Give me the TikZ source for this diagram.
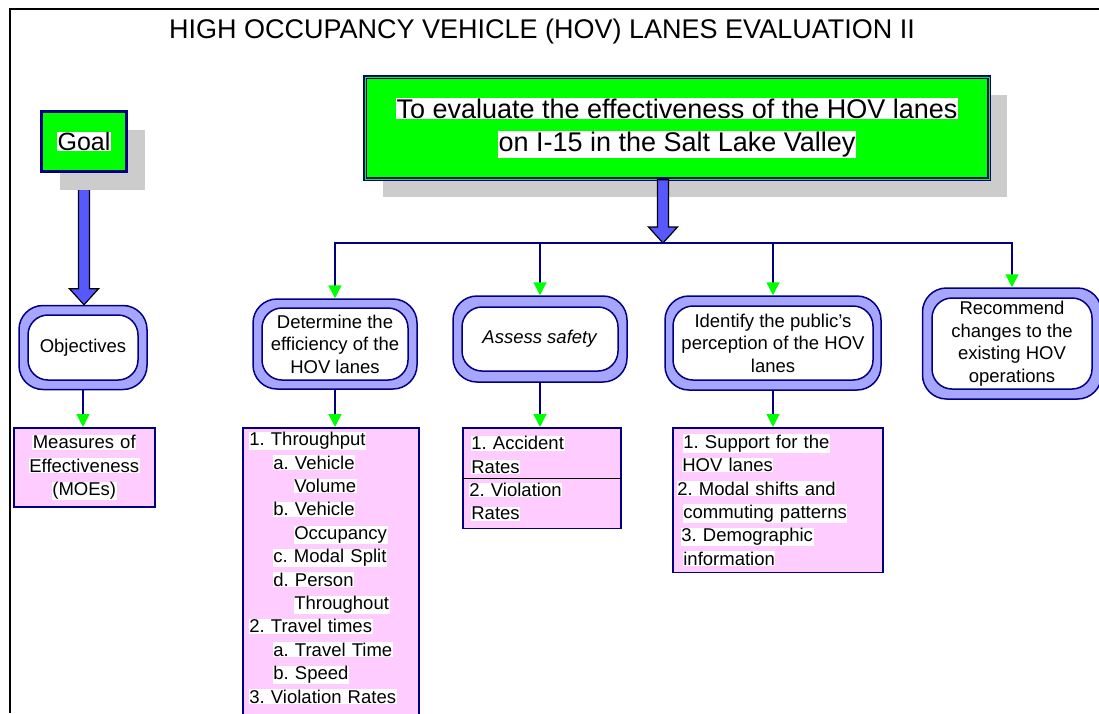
\documentclass[tikz,border=0pt]{standalone}
\usepackage{fontspec}
\setmainfont{Liberation Sans}
\usepackage{tikz}
\usetikzlibrary{arrows.meta, shadows, calc}
\definecolor{hovgreen}{RGB}{0, 255, 0}
\definecolor{hovnavy}{RGB}{0, 0, 128}
\definecolor{pillblue}{RGB}{166, 166, 255}
\definecolor{arrowblue}{RGB}{88, 88, 255}
\definecolor{listpink}{RGB}{255, 204, 255}
\definecolor{shadowgray}{RGB}{204, 204, 204}
\pgfdeclarelayer{background}
\pgfsetlayers{background,main}
\frenchspacing
\newcommand{\hl}[1]{{\setlength{\fboxsep}{0.6pt}\colorbox{white}{#1}}}
\newcommand{\fatarrow}[2]{%
  \draw[fat] let \p1=(#1), \p2=(#2) in
    (\x1-5.5pt,\y1) -- (\x1-5.5pt,\y2+16pt) -- (\x1-14.5pt,\y2+16pt) --
    (\x1,\y2) -- (\x1+14.5pt,\y2+16pt) -- (\x1+5.5pt,\y2+16pt) --
    (\x1+5.5pt,\y1) -- cycle;}

\begin{document}
\begin{tikzpicture}[x=1pt, y=-1pt,
  every node/.style={font={\fontsize{18.5}{23.4}\selectfont}},
  title/.style={font={\fontsize{27}{32}\selectfont}, anchor=base},
  dropsh/.style={drop shadow={shadow xshift=18pt, shadow yshift=-18pt,
                 fill=shadowgray, opacity=1}},
  goalbox/.style={draw=hovnavy, line width=3pt, fill=hovgreen, dropsh,
                  minimum width=85pt, minimum height=60pt,
                  font={\fontsize{25}{30}\selectfont}},
  mainbox/.style={draw=hovnavy, line width=1.3pt, double=hovgreen,
                  double distance=1pt, fill=hovgreen, dropsh,
                  minimum width=624pt, minimum height=102pt, align=center,
                  font={\fontsize{27}{33}\selectfont}},
  pillband/.style={draw=hovnavy, line width=1.5pt, fill=pillblue,
                   rounded corners=24pt},
  pill/.style={draw=hovnavy, line width=1.5pt, fill=white,
               rounded corners=20pt, align=center, inner sep=0pt,
               font={\fontsize{18.5}{22.5}\selectfont}},
  listbox/.style={draw=hovnavy, line width=1.5pt, fill=listpink,
                  anchor=north west, align=left, inner ysep=4pt},
  tree/.style={hovnavy, line width=1.5pt,
               -{Triangle[hovgreen, width=13pt, length=13pt]}},
  fat/.style={draw=black, line width=1.2pt, fill=arrowblue}]
  \useasboundingbox (0,0) rectangle (1099,713);
  % Frame and title
  \draw[line width=2pt] (10,713) -- (10,9) -- (1099,9);
  \node[title] (title) at (542,38)
    {HIGH OCCUPANCY VEHICLE (HOV) LANES EVALUATION II};
  % Goal and main objective
  \node[goalbox] (goal) at (84,141.5) {\hl{Goal}};
  \node[mainbox] (main) at (677,128)
    {\hl{To evaluate the effectiveness of the HOV lanes}\\
     \hl{on I-15 in the Salt Lake Valley}};
  % Objectives
  \node[pillband, minimum width=128pt, minimum height=84pt] (objO) at (83,347.5) {};
  \node[pill, minimum width=110pt, minimum height=65pt] (obj) at (objO) {Objectives};
  \node[pillband, minimum width=164pt, minimum height=90pt] (effO) at (335,344) {};
  \node[pill, minimum width=146pt, minimum height=72pt] (eff) at (effO)
    {Determine the\\efficiency of the\\HOV lanes};
  \node[pillband, minimum width=174pt, minimum height=86pt] (safeO) at (540,339) {};
  \node[pill, minimum width=156pt, minimum height=64pt] (safe) at (safeO)
    {\textit{Assess safety}};
  \node[pillband, minimum width=216pt, minimum height=94pt] (percO) at (773,343) {};
  \node[pill, minimum width=200pt, minimum height=74pt] (perc) at (percO)
    {Identify the public's\\perception of the HOV\\lanes};
  \node[pillband, minimum width=179pt, minimum height=111pt] (recO) at (1012,343.5) {};
  \node[pill, minimum width=160pt, minimum height=91pt] (rec) at (recO)
    {Recommend\\changes to the\\existing HOV\\operations};
  % Measures
  \node[listbox, text width=129pt, align=center, inner xsep=6pt, inner ysep=7pt]
    (moe) at (13,427) {\hl{Measures of}\\\hl{Effectiveness}\\\hl{(MOEs)}};
  \node[listbox, text width=164pt, inner xsep=6pt] (thru) at (242,427)
    {\hl{1. Throughput}\\
     \hspace*{24pt}\hl{a. Vehicle}\\
     \hspace*{45pt}\hl{Volume}\\
     \hspace*{24pt}\hl{b. Vehicle}\\
     \hspace*{45pt}\hl{Occupancy}\\
     \hspace*{24pt}\hl{c. Modal Split}\\
     \hspace*{24pt}\hl{d. Person}\\
     \hspace*{45pt}\hl{Throughout}\\
     \hl{2. Travel times}\\
     \hspace*{24pt}\hl{a. Travel Time}\\
     \hspace*{24pt}\hl{b. Speed}\\
     \hl{3. Violation Rates}\\
     \mbox{}};
  \node[listbox, text width=146pt, inner xsep=6pt, inner ysep=8pt] (acc) at (462,427)
    {\hspace*{2pt}\hl{1. Accident}\\
     \hspace*{2pt}\hl{Rates}\\
     \hl{2. Violation}\\
     \hspace*{2pt}\hl{Rates}};
  \draw[black, line width=1pt] (acc.west) -- (acc.east);
  \node[listbox, text width=202pt, inner xsep=4pt, inner ysep=6.5pt] (supp) at (672,427)
    {\hspace*{6pt}\hl{1. Support for the}\\
     \hspace*{5pt}\hl{HOV lanes}\\
     \hl{2. Modal shifts and}\\
     \hspace*{6pt}\hl{commuting patterns}\\
     \hspace*{4pt}\hl{3. Demographic}\\
     \hspace*{6pt}\hl{information}};
  % Connectors
  \begin{pgfonlayer}{background}
    \fatarrow{goal.south}{objO.north}
  \end{pgfonlayer}
  \coordinate (bus) at (663,243);
  \fatarrow{main.south -| bus}{bus}
  \foreach \target in {effO, safeO, percO, recO}
    \draw[tree] (bus) -| (\target.north);
  \draw[tree] (objO.south) -- (objO.south |- moe.north);
  \draw[tree] (effO.south) -- (effO.south |- thru.north);
  \draw[tree] (safeO.south) -- (safeO.south |- acc.north);
  \draw[tree] (percO.south) -- (percO.south |- supp.north);
\end{tikzpicture}
\end{document}
